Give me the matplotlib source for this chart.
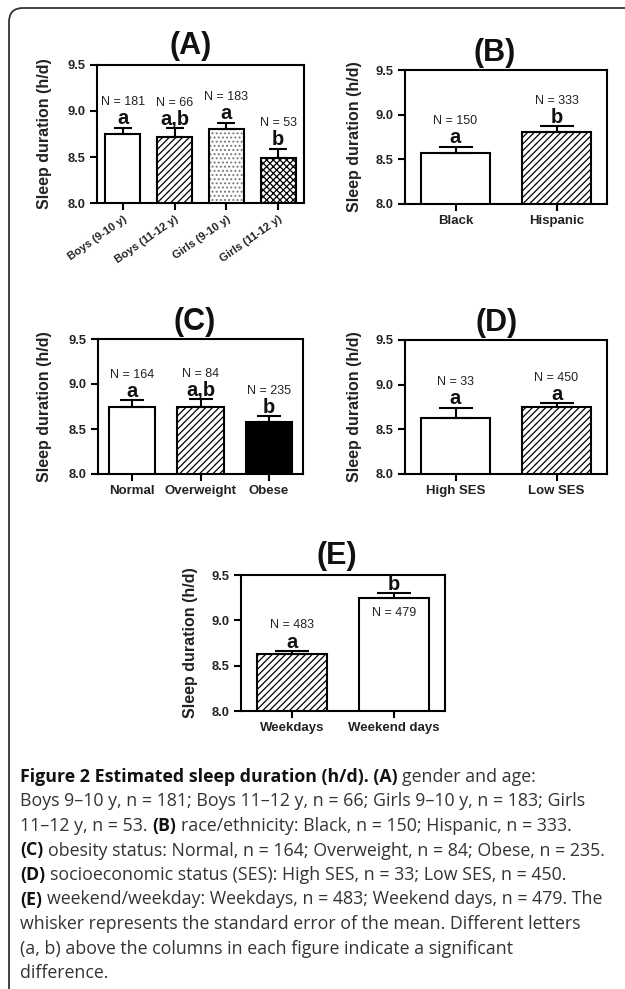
import numpy as np
import matplotlib
matplotlib.use("Agg")
import matplotlib.pyplot as plt
from matplotlib.patches import FancyBboxPatch
from matplotlib.transforms import IdentityTransform

W, H = 625, 989

# ---- values ----
a_labels = ["Boys (9-10 y)", "Boys (11-12 y)", "Girls (9-10 y)", "Girls (11-12 y)"]
a_means = [8.75, 8.72, 8.80, 8.49]
a_sem = [0.07, 0.09, 0.07, 0.10]
a_n = [181, 66, 183, 53]
a_letters = ["a", "a,b", "a", "b"]

b_labels = ["Black", "Hispanic"]
b_means = [8.57, 8.81]
b_sem = [0.07, 0.06]
b_n = [150, 333]
b_letters = ["a", "b"]

c_labels = ["Normal", "Overweight", "Obese"]
c_means = [8.75, 8.74, 8.58]
c_sem = [0.07, 0.09, 0.06]
c_n = [164, 84, 235]
c_letters = ["a", "a,b", "b"]

d_labels = ["High SES", "Low SES"]
d_means = [8.63, 8.75]
d_sem = [0.11, 0.04]
d_n = [33, 450]
d_letters = ["a", "a"]

e_labels = ["Weekdays", "Weekend days"]
e_means = [8.63, 9.25]
e_sem = [0.03, 0.05]
e_n = [483, 479]
e_letters = ["a", "b"]

yticks = [8.0, 8.5, 9.0, 9.5]

# bar styles: (face colour, hatch, hatch colour)
WHITE = ("white", None, "black")
STRIPE = ("white", "/////", "black")
DOTS = ("white", "....", "#777777")
CROSS = ("white", "xxxxx", "black")
SOLID = ("black", None, "black")

fig = plt.figure(figsize=(W / 100, H / 100), dpi=100)
plt.rcParams["font.family"] = ["Liberation Sans", "DejaVu Sans"]
plt.rcParams["hatch.linewidth"] = 0.9


def draw_panel(rect, title, title_xy, ylab_x, labels, means, sem, ns, letters,
               styles, rot=0, tick_fs=9.5, n_inside=()):
    left, top, right, bottom = rect
    ax = fig.add_axes([left / W, 1 - bottom / H, (right - left) / W, (bottom - top) / H])
    x = np.arange(len(labels))
    bw = 0.68
    for xi, m, (fc, hatch, hc) in zip(x, means, styles):
        ax.bar(xi, m, width=bw, color=fc, hatch=hatch, edgecolor=hc, linewidth=0, zorder=2)
        ax.bar(xi, m, width=bw, fill=False, edgecolor="black", linewidth=1.5, zorder=3)

    # whisker only goes up (SEM)
    bar_px = bw * (right - left) / len(labels)
    cap = bar_px / 4 * 0.72
    ax.errorbar(x, means, yerr=[np.zeros(len(x)), sem], fmt="none", ecolor="black",
                elinewidth=1.5, capsize=cap, capthick=1.5, zorder=4)

    for i, (xi, m, s, n, let) in enumerate(zip(x, means, sem, ns, letters)):
        ax.annotate(let, (xi, m + s), xytext=(0, 2.5), textcoords="offset points",
                    ha="center", va="baseline", fontsize=14.5, fontweight="bold", color="#111")
        if i in n_inside:
            ax.annotate(f"N = {n}", (xi, m), xytext=(0, -11), textcoords="offset points",
                        ha="center", va="center", fontsize=9, color="#222")
        else:
            ax.annotate(f"N = {n}", (xi, m + s), xytext=(0, 18.5), textcoords="offset points",
                        ha="center", va="center", fontsize=9, color="#222")

    ax.set_xlim(-0.5, len(labels) - 0.5)
    ax.set_ylim(8.0, 9.5)
    ax.set_yticks(yticks)
    ax.set_yticklabels([f"{v:.1f}" for v in yticks], fontsize=9.3, fontweight="bold", color="#222")
    ax.set_xticks(x)
    if rot:
        ax.set_xticklabels(labels, fontsize=tick_fs, fontweight="bold", color="#222",
                           rotation=rot, ha="right", rotation_mode="anchor")
    else:
        ax.set_xticklabels(labels, fontsize=tick_fs, fontweight="bold", color="#222")
    ax.tick_params(direction="out", length=5, width=1.5, pad=3)
    for sp in ax.spines.values():
        sp.set_linewidth(1.5)

    fig.text(title_xy[0] / W, 1 - title_xy[1] / H, title, fontsize=22, fontweight="bold",
             ha="center", va="center", color="#111")
    fig.text(ylab_x / W, 1 - (top + bottom) / 2 / H, "Sleep duration (h/d)", rotation=90,
             fontsize=11.5, fontweight="bold", ha="center", va="center", color="#222")
    return ax


draw_panel((97, 65, 304, 203), "(A)", (191, 46), 45, a_labels, a_means, a_sem, a_n,
           a_letters, [WHITE, STRIPE, DOTS, CROSS], rot=35, tick_fs=8)
draw_panel((405, 70, 607, 204), "(B)", (495, 53), 354, b_labels, b_means, b_sem, b_n,
           b_letters, [WHITE, STRIPE])
draw_panel((98, 339, 303, 474), "(C)", (195, 322), 45, c_labels, c_means, c_sem, c_n,
           c_letters, [WHITE, STRIPE, SOLID])
draw_panel((405, 340, 607, 474), "(D)", (497, 323), 354, d_labels, d_means, d_sem, d_n,
           d_letters, [WHITE, STRIPE])
draw_panel((241, 575, 445, 711), "(E)", (337, 556), 190, e_labels, e_means, e_sem, e_n,
           e_letters, [STRIPE, WHITE], n_inside=(1,))

# frame around the figure (runs off the right and bottom edge)
frame = FancyBboxPatch((9, -30), 660, H - 8 + 30, boxstyle="round,pad=0,rounding_size=14",
                       transform=IdentityTransform(), fill=False, edgecolor="#333333", lw=1.3)
fig.add_artist(frame)

# ---- caption ----
caption = [
    [("Figure 2 Estimated sleep duration (h/d). (A)", True), ("gender and age:", False)],
    [("Boys 9\u201310 y, n = 181; Boys 11\u201312 y, n = 66; Girls 9\u201310 y, n = 183; Girls", False)],
    [("11\u201312 y, n = 53.", False), ("(B)", True), ("race/ethnicity: Black, n = 150; Hispanic, n = 333.", False)],
    [("(C)", True), ("obesity status: Normal, n = 164; Overweight, n = 84; Obese, n = 235.", False)],
    [("(D)", True), ("socioeconomic status (SES): High SES, n = 33; Low SES, n = 450.", False)],
    [("(E)", True), ("weekend/weekday: Weekdays, n = 483; Weekend days, n = 479. The", False)],
    [("whisker represents the standard error of the mean. Different letters", False)],
    [("(a, b) above the columns in each figure indicate a significant", False)],
    [("difference.", False)],
]
cap_font = ["Open Sans", "DejaVu Sans"]
cap_fs = 12.8
renderer = fig.canvas.get_renderer()


def text_w(s, bold=False):
    t = fig.text(0, 0, s, fontsize=cap_fs, family=cap_font, fontweight="bold" if bold else "normal")
    w = t.get_window_extent(renderer).width
    t.remove()
    return w


space_w = text_w("a a") - text_w("aa")
y0, dy = 782, 24.5
for i, parts in enumerate(caption):
    x = 20
    y = y0 + i * dy
    for j, (s, bold) in enumerate(parts):
        if j > 0:
            x += space_w
        t = fig.text(x / W, 1 - y / H, s, fontsize=cap_fs, family=cap_font,
                     fontweight="bold" if bold else "normal",
                     color="#111" if bold else "#333", ha="left", va="baseline")
        x += t.get_window_extent(renderer).width

fig.savefig("out.png", dpi=100)
